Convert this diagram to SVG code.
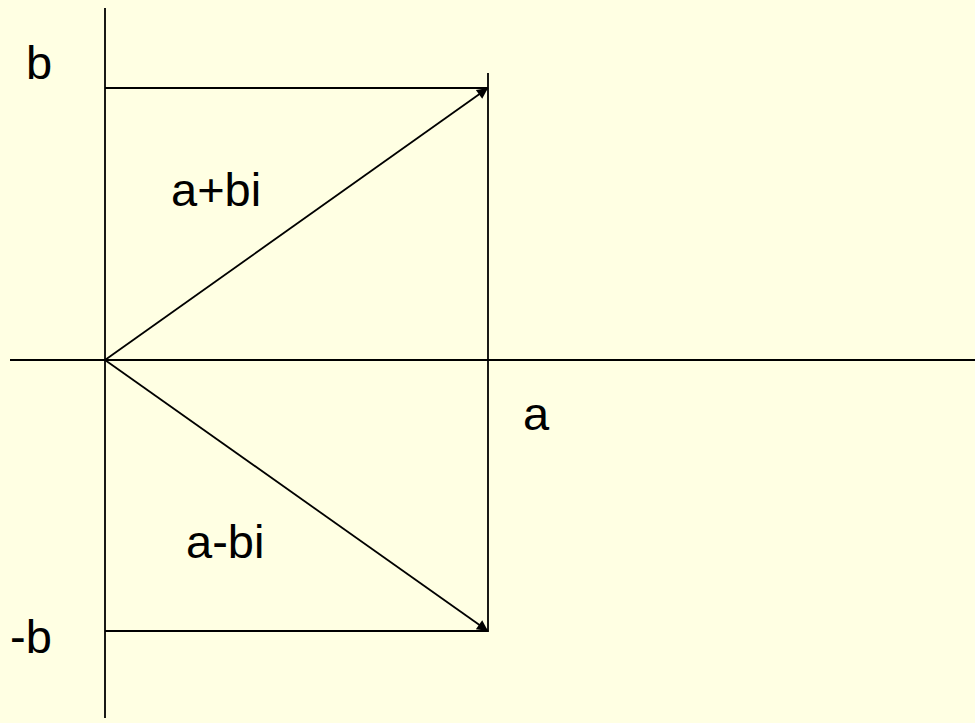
<svg xmlns="http://www.w3.org/2000/svg" width="975" height="723" viewBox="0 0 975 723">
<style>
.ln{stroke:#000;stroke-width:1.8;fill:none}
.t{font-family:"Liberation Sans",Arial,sans-serif;font-size:47px;fill:#000}
</style>
<defs>
<marker id="ah" viewBox="0 0 10 10" refX="10" refY="5" markerWidth="18" markerHeight="11" markerUnits="userSpaceOnUse" orient="auto">
<path d="M0,0 L10,5 L0,10 Z" fill="#000"/>
</marker>
</defs>
<rect width="975" height="723" fill="#FFFFE3"/>
<g id="connectors">
<line class="ln" x1="105" y1="8" x2="105" y2="718"/>
<line class="ln" x1="10" y1="360" x2="975" y2="360"/>
<line class="ln" x1="105" y1="88" x2="488" y2="88"/>
<line class="ln" x1="488" y1="73" x2="488" y2="632"/>
<line class="ln" x1="105" y1="631" x2="488" y2="631"/>
<line class="ln" x1="105" y1="360" x2="488" y2="88" marker-end="url(#ah)"/>
<line class="ln" x1="105" y1="360" x2="488" y2="631" marker-end="url(#ah)"/>
</g>
<g id="labels">
<text class="t" x="26" y="79">b</text>
<text class="t" x="171" y="206">a+bi</text>
<text class="t" x="523" y="430">a</text>
<text class="t" x="186" y="558">a-bi</text>
<text class="t" x="10" y="653">-b</text>
</g>
</svg>
